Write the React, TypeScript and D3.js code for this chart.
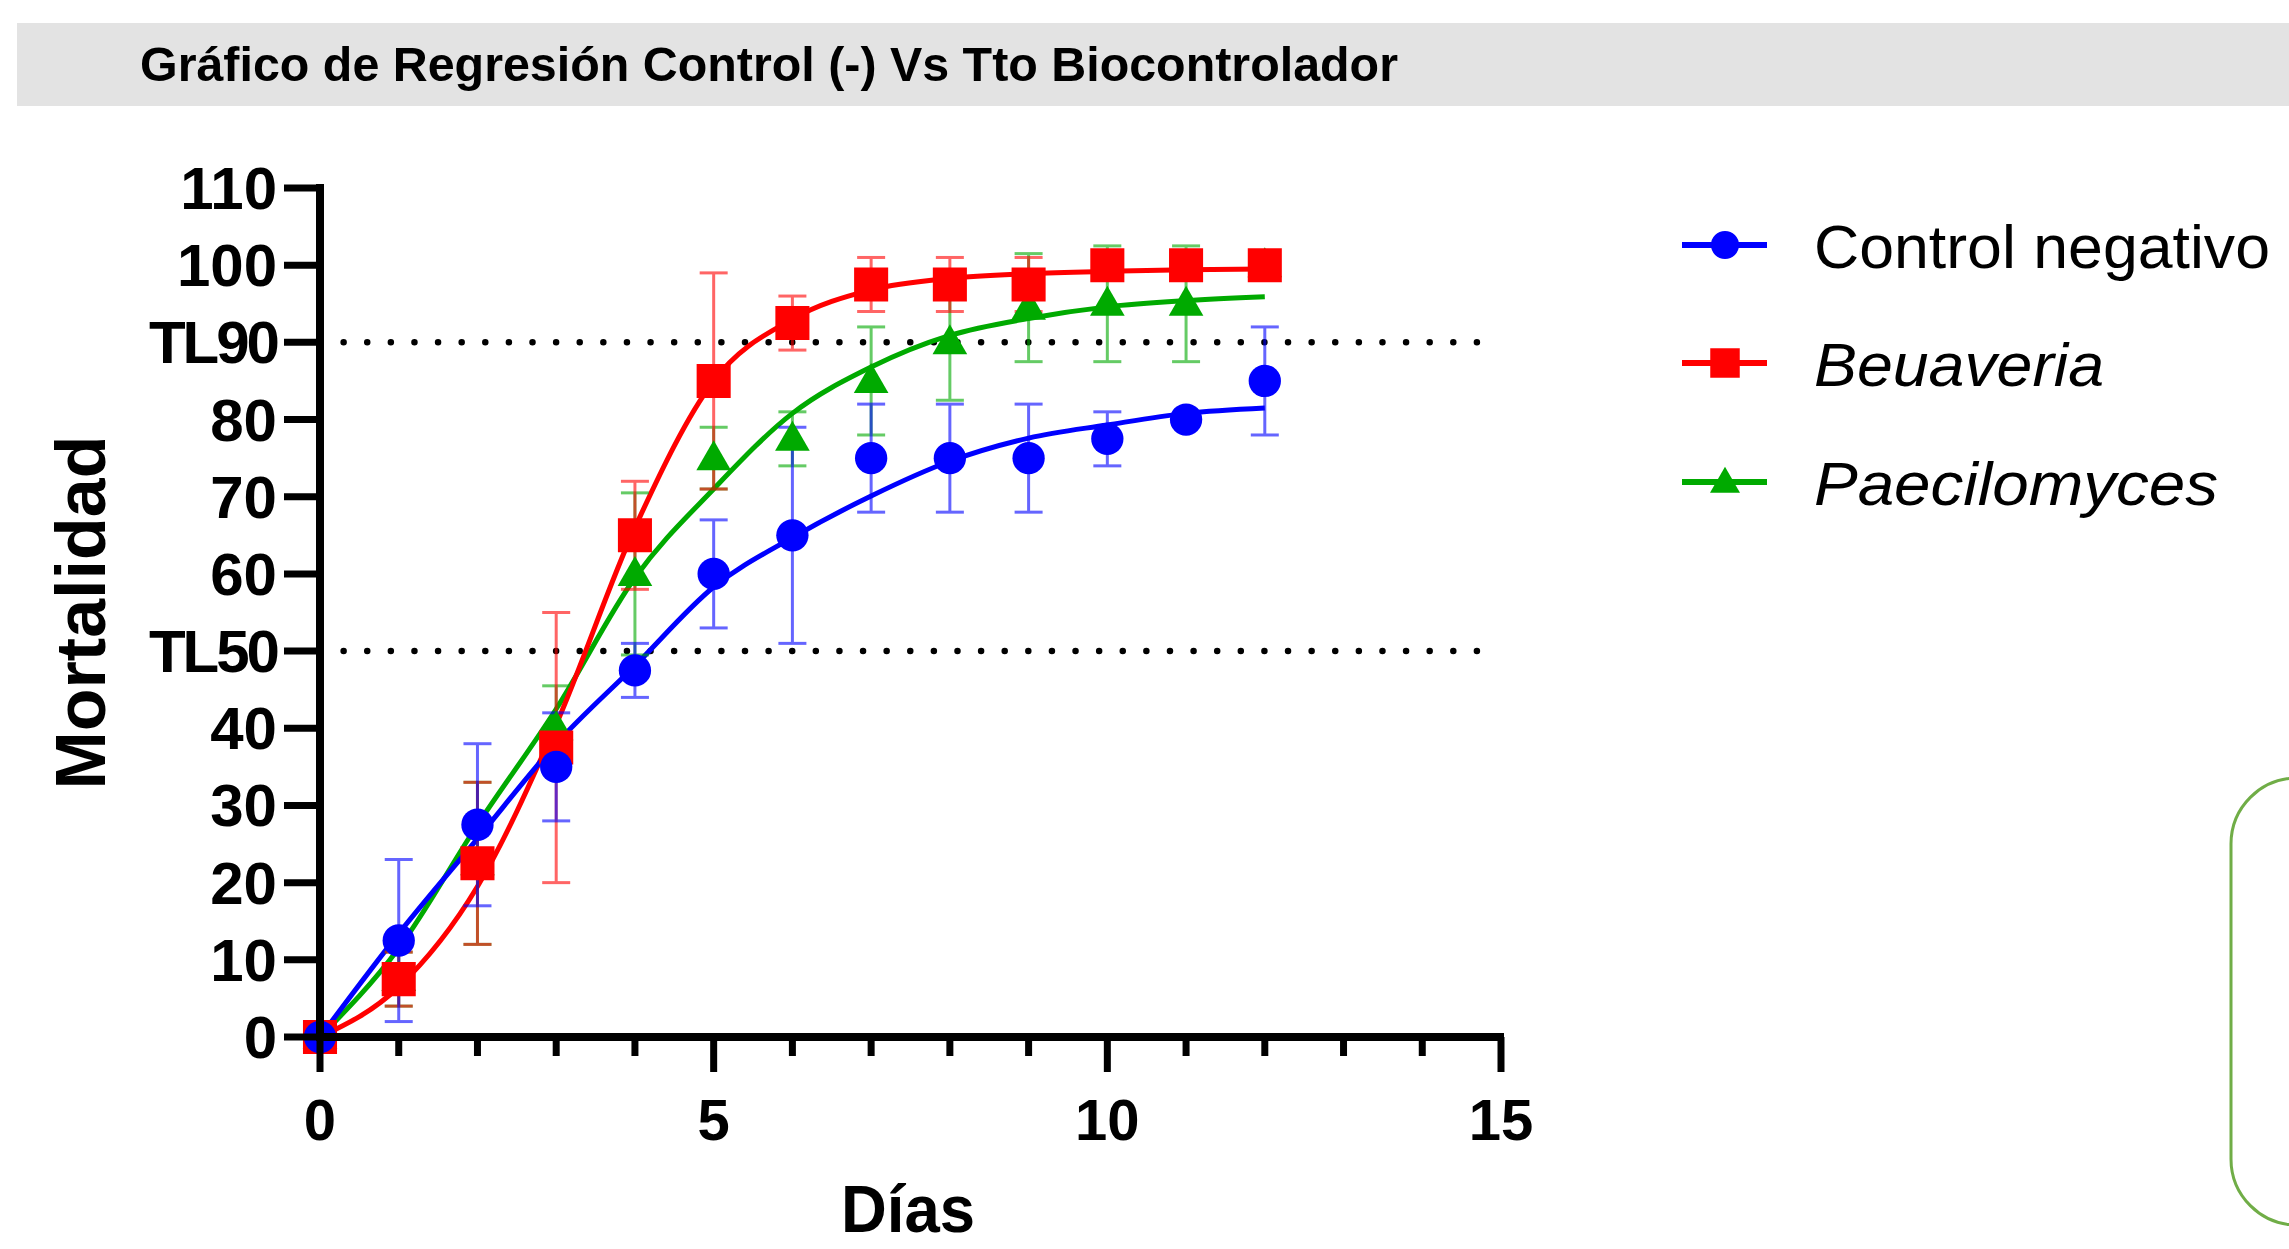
import React from 'react';
import * as d3 from 'd3';

const W = 2289;
const H = 1249;

// días de muestreo
const days = [0, 1, 2, 3, 4, 5, 6, 7, 8, 9, 10, 11, 12];

// Control negativo
const controlMean = [0, 12.5, 27.5, 35, 47.5, 60, 65, 75, 75, 75, 77.5, 80, 85];
const controlErr = [0, 10.5, 10.5, 7, 3.5, 7, 14, 7, 7, 7, 3.5, 0, 7];
const controlFit = [0, 13.4, 25.7, 38, 48.1, 58.3, 64.7, 70.1, 74.6, 77.6, 79.3, 80.8, 81.5];

// Beuaveria
const beuaveriaMean = [0, 7.5, 22.5, 37.5, 65, 85, 92.5, 97.5, 97.5, 97.5, 100, 100, 100];
const beuaveriaErr = [0, 3.5, 10.5, 17.5, 7, 14, 3.5, 3.5, 3.5, 3.5, 0, 0, 0];
const beuaveriaFit = [0, 6.5, 19.5, 40.5, 66, 85, 93, 96.8, 98.3, 98.9, 99.2, 99.4, 99.5];

// Paecilomyces
const paeciloMean = [0, 7.5, 22.5, 40, 60, 75, 77.5, 85, 90, 94.5, 95, 95, 100];
const paeciloErr = [0, 3.5, 10.5, 5.5, 10.5, 4, 3.5, 7, 7.5, 7, 7.5, 7.5, 0];
const paeciloFit = [0, 11.5, 27.5, 42.5, 59.5, 71, 80.8, 86.8, 90.9, 93.1, 94.6, 95.4, 95.9];

const xMajorTicks = [0, 5, 10, 15];
const xMinorTicks = [1, 2, 3, 4, 6, 7, 8, 9, 11, 12, 13, 14];
const yTicks = [0, 10, 20, 30, 40, 50, 60, 70, 80, 90, 100, 110];
const yTickLabels = ['0', '10', '20', '30', '40', 'TL50', '60', '70', '80', 'TL90', '100', '110'];
const refLines = [50, 90];

const series = [
  { name: 'Paecilomyces', color: '#00aa00', mean: paeciloMean, err: paeciloErr, fit: paeciloFit, symbol: d3.symbolTriangle, size: 520, italic: true, textW: 404 },
  { name: 'Beuaveria', color: '#ff0000', mean: beuaveriaMean, err: beuaveriaErr, fit: beuaveriaFit, symbol: d3.symbolSquare, size: 1160, italic: true, textW: 290 },
  { name: 'Control negativo', color: '#0000ff', mean: controlMean, err: controlErr, fit: controlFit, symbol: d3.symbolCircle, size: 820, italic: false, textW: 456 },
];
const legendOrder = ['Control negativo', 'Beuaveria', 'Paecilomyces'];

const FONT = '"Liberation Sans", Arial, sans-serif';

export default function App() {
  const x = d3.scaleLinear().domain([0, 15]).range([320, 1501]);
  const y = d3.scaleLinear().domain([0, 110]).range([1037, 188]);
  const line = d3.line<number>()
    .x((_, i) => x(days[i]))
    .y(d => y(d))
    .curve(d3.curveMonotoneX);

  const capW = 14;

  return (
    <svg width={W} height={H} style={{ position: 'absolute', left: 0, top: 0, background: '#fff' }}>
      {/* barra del título */}
      <rect x={17} y={23} width={W - 17} height={83} fill="#e3e3e3" />
      <text x={140} y={81} fontFamily={FONT} fontWeight="bold" fontSize={48} fill="#000"
        textLength={1258} lengthAdjust="spacingAndGlyphs">
        Gráfico de Regresión Control (-) Vs Tto Biocontrolador
      </text>

      {/* líneas TL50 / TL90 */}
      {refLines.map(v => (
        <line key={v} x1={x(0.3)} x2={x(14.75)} y1={y(v)} y2={y(v)}
          stroke="#000" strokeWidth={6.5} strokeLinecap="round" strokeDasharray="0.01 23.6" />
      ))}

      {/* curvas de regresión */}
      {series.map(s => (
        <path key={s.name} d={line(s.fit) || ''} fill="none" stroke={s.color} strokeWidth={5} />
      ))}

      {/* barras de error */}
      {series.map(s => (
        <g key={s.name} stroke={s.color} strokeWidth={3} opacity={0.6}>
          {s.mean.map((m, i) => s.err[i] > 0 ? (
            <g key={i}>
              <line x1={x(days[i])} x2={x(days[i])} y1={y(m - s.err[i])} y2={y(m + s.err[i])} />
              <line x1={x(days[i]) - capW} x2={x(days[i]) + capW} y1={y(m - s.err[i])} y2={y(m - s.err[i])} />
              <line x1={x(days[i]) - capW} x2={x(days[i]) + capW} y1={y(m + s.err[i])} y2={y(m + s.err[i])} />
            </g>
          ) : null)}
        </g>
      ))}

      {/* marcadores */}
      {series.map(s => {
        const sym = d3.symbol().type(s.symbol).size(s.size)();
        return (
          <g key={s.name} fill={s.color}>
            {s.mean.map((m, i) => (
              <path key={i} d={sym || ''} transform={`translate(${x(days[i])},${y(m) + (s.symbol === d3.symbolTriangle ? 2 : 0)})`} />
            ))}
          </g>
        );
      })}

      {/* eje Y */}
      <line x1={x(0)} x2={x(0)} y1={y(110) - 4} y2={y(0) + 4} stroke="#000" strokeWidth={8} />
      {yTicks.map((t, i) => (
        <g key={t}>
          <line x1={x(0) - 36} x2={x(0)} y1={y(t)} y2={y(t)} stroke="#000" strokeWidth={7} />
          <text x={277} y={y(t) + 21} textAnchor="end" fontFamily={FONT} fontWeight="bold" fontSize={60}
            letterSpacing={yTickLabels[i].startsWith('TL') ? -3 : 0}>
            {yTickLabels[i]}
          </text>
        </g>
      ))}

      {/* eje X */}
      <line x1={x(0) - 4} x2={x(15) + 3} y1={y(0)} y2={y(0)} stroke="#000" strokeWidth={8} />
      {xMinorTicks.map(t => (
        <line key={t} x1={x(t)} x2={x(t)} y1={y(0)} y2={y(0) + 19} stroke="#000" strokeWidth={7} />
      ))}
      {xMajorTicks.map(t => (
        <g key={t}>
          <line x1={x(t)} x2={x(t)} y1={y(0)} y2={y(0) + 35} stroke="#000" strokeWidth={7} />
          <text x={x(t)} y={1140} textAnchor="middle" fontFamily={FONT} fontWeight="bold" fontSize={58}>{t}</text>
        </g>
      ))}

      {/* títulos de ejes */}
      <text x={908} y={1232} textAnchor="middle" fontFamily={FONT} fontWeight="bold" fontSize={66}
        textLength={134} lengthAdjust="spacingAndGlyphs">Días</text>
      <text transform={`translate(105,${(y(0) + y(110)) / 2}) rotate(-90)`} textAnchor="middle"
        fontFamily={FONT} fontWeight="bold" fontSize={70}>Mortalidad</text>

      {/* leyenda */}
      {legendOrder.map((name, i) => {
        const s = series.find(d => d.name === name)!;
        const ly = [245, 363, 482][i];
        const sym = d3.symbol().type(s.symbol).size(s.size * 0.75)();
        return (
          <g key={name}>
            <line x1={1682} x2={1767} y1={ly} y2={ly} stroke={s.color} strokeWidth={6} />
            <path d={sym || ''} fill={s.color} transform={`translate(1725,${ly + (s.symbol === d3.symbolTriangle ? 2 : 0)})`} />
            <text x={1814} y={ly + 23} fontFamily={FONT} fontSize={62} fontStyle={s.italic ? 'italic' : 'normal'}
              textLength={s.textW} lengthAdjust="spacingAndGlyphs">{name}</text>
          </g>
        );
      })}

      {/* recuadro verde */}
      <rect x={2231} y={778} width={200} height={447} rx={66} ry={66} fill="none" stroke="#70ad47" strokeWidth={3} />
    </svg>
  );
}
